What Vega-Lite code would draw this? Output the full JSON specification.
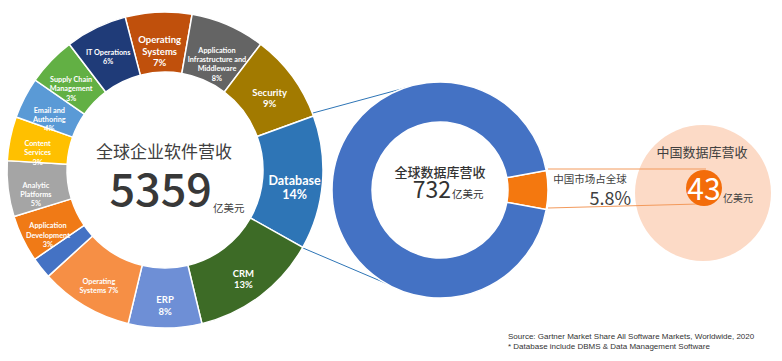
{
  "$schema": "https://vega.github.io/schema/vega-lite/v6.json",
  "width": 782,
  "height": 361,
  "autosize": {"type": "none"},
  "padding": 0,
  "background": "white",
  "config": {"view": {"stroke": null}},
  "data": {"values": [{"one": 1}]},
  "datasets": {
    "software": [
      {"id": 1, "name": "Operating Systems", "share": 6.8, "label": "Operating\nSystems\n7%"},
      {"id": 2, "name": "Application Infrastructure and Middleware", "share": 7.6, "label": "Application\nInfrastructure and\nMiddleware\n8%"},
      {"id": 3, "name": "Security", "share": 9.1, "label": "Security\n9%"},
      {"id": 4, "name": "Database", "share": 13.7, "label": "Database\n14%"},
      {"id": 5, "name": "CRM", "share": 13.1, "label": "CRM\n13%"},
      {"id": 6, "name": "ERP", "share": 7.5, "label": "ERP\n8%"},
      {"id": 7, "name": "Operating Systems", "share": 9.5, "label": "Operating\nSystems 7%"},
      {"id": 8, "name": "Other", "share": 2.2, "label": ""},
      {"id": 9, "name": "Application Development", "share": 4.8, "label": "Application\nDevelopment\n3%"},
      {"id": 10, "name": "Analytic Platforms", "share": 5.7, "label": "Analytic\nPlatforms\n5%"},
      {"id": 11, "name": "Content Services", "share": 4.5, "label": "Content\nServices\n3%"},
      {"id": 12, "name": "Email and Authoring", "share": 4.2, "label": "Email and\nAuthoring\n4%"},
      {"id": 13, "name": "Supply Chain Management", "share": 5.0, "label": "Supply Chain\nManagement\n3%"},
      {"id": 14, "name": "IT Operations", "share": 6.3, "label": "IT Operations\n6%"}
    ],
    "db": [
      {"id": 1, "part": "中国", "share": 5.8},
      {"id": 2, "part": "其他", "share": 94.2}
    ]
  },
  "resolve": {"scale": {"theta": "independent", "color": "independent"}},
  "layer": [
    {
      "mark": {"type": "rule", "color": "#2E75B6", "strokeWidth": 1},
      "encoding": {
        "x": {"datum": 313, "type": "quantitative", "scale": {"domain": [0, 782], "range": [0, 782], "nice": false, "zero": false}, "axis": null},
        "y": {"datum": 113, "type": "quantitative", "scale": {"domain": [0, 361], "range": [0, 361], "nice": false, "zero": false}, "axis": null},
        "x2": {"datum": 405},
        "y2": {"datum": 88}
      }
    },
    {
      "mark": {"type": "rule", "color": "#2E75B6", "strokeWidth": 1},
      "encoding": {
        "x": {"datum": 303, "type": "quantitative", "scale": {"domain": [0, 782], "range": [0, 782], "nice": false, "zero": false}, "axis": null},
        "y": {"datum": 248, "type": "quantitative", "scale": {"domain": [0, 361], "range": [0, 361], "nice": false, "zero": false}, "axis": null},
        "x2": {"datum": 397},
        "y2": {"datum": 288}
      }
    },
    {
      "data": {"name": "software"},
      "mark": {"type": "arc", "radius": 158, "radius2": 98, "stroke": "white", "strokeWidth": 1.5},
      "encoding": {
        "x": {"datum": 165, "type": "quantitative", "scale": {"domain": [0, 782], "range": [0, 782], "nice": false, "zero": false}, "axis": null},
        "y": {"datum": 170, "type": "quantitative", "scale": {"domain": [0, 361], "range": [0, 361], "nice": false, "zero": false}, "axis": null},
        "theta": {"field": "share", "type": "quantitative", "stack": true, "scale": {"domain": [0, 100], "range": [-0.2548, 6.0284]}},
        "order": {"field": "id", "type": "quantitative"},
        "color": {
          "field": "id", "type": "nominal", "legend": null,
          "scale": {
            "domain": [1, 2, 3, 4, 5, 6, 7, 8, 9, 10, 11, 12, 13, 14],
            "range": ["#C0500C", "#646464", "#A27A00", "#2E75B6", "#3D6B26", "#6E8FD6", "#F68F45", "#4472C4", "#F07A16", "#A5A5A5", "#FFC000", "#5A9AD6", "#62B044", "#1F3B78"]
          }
        }
      }
    },
    {
      "data": {"name": "software"},
      "mark": {"type": "text", "radius": 130, "font": "Lato", "fontWeight": "bold", "color": "white", "lineBreak": "\n", "align": "center", "baseline": "middle"},
      "encoding": {
        "x": {"datum": 165, "type": "quantitative", "scale": {"domain": [0, 782], "range": [0, 782], "nice": false, "zero": false}, "axis": null},
        "y": {"datum": 170, "type": "quantitative", "scale": {"domain": [0, 361], "range": [0, 361], "nice": false, "zero": false}, "axis": null},
        "theta": {"field": "share", "type": "quantitative", "stack": true, "scale": {"domain": [0, 100], "range": [-0.2548, 6.0284]}},
        "order": {"field": "id", "type": "quantitative"},
        "text": {"field": "label", "type": "nominal"},
        "size": {
          "condition": [
            {"test": "datum.id === 4", "value": 12.5},
            {"test": "indexof([1, 3, 5, 6], datum.id) >= 0", "value": 9.5}
          ],
          "value": 7.3
        }
      }
    },
    {
      "data": {"name": "db"},
      "mark": {"type": "arc", "radius": 108, "radius2": 68, "stroke": "white", "strokeWidth": 1.5},
      "encoding": {
        "x": {"datum": 440, "type": "quantitative", "scale": {"domain": [0, 782], "range": [0, 782], "nice": false, "zero": false}, "axis": null},
        "y": {"datum": 190, "type": "quantitative", "scale": {"domain": [0, 361], "range": [0, 361], "nice": false, "zero": false}, "axis": null},
        "theta": {"field": "share", "type": "quantitative", "stack": true, "scale": {"domain": [0, 100], "range": [1.3886, 7.6718]}},
        "order": {"field": "id", "type": "quantitative"},
        "color": {
          "field": "part", "type": "nominal", "legend": null,
          "scale": {"domain": ["中国", "其他"], "range": ["#F4780F", "#4472C4"]}
        }
      }
    },
    {
      "mark": {"type": "arc", "radius": 68, "theta": 0, "theta2": 6.2832, "color": "#FCDAC6"},
      "encoding": {
        "x": {"datum": 703, "type": "quantitative", "scale": {"domain": [0, 782], "range": [0, 782], "nice": false, "zero": false}, "axis": null},
        "y": {"datum": 193, "type": "quantitative", "scale": {"domain": [0, 361], "range": [0, 361], "nice": false, "zero": false}, "axis": null}
      }
    },
    {
      "mark": {"type": "rule", "color": "#F39A5C", "strokeWidth": 1},
      "encoding": {
        "x": {"datum": 548, "type": "quantitative", "scale": {"domain": [0, 782], "range": [0, 782], "nice": false, "zero": false}, "axis": null},
        "y": {"datum": 169, "type": "quantitative", "scale": {"domain": [0, 361], "range": [0, 361], "nice": false, "zero": false}, "axis": null},
        "x2": {"datum": 706},
        "y2": {"datum": 169}
      }
    },
    {
      "mark": {"type": "rule", "color": "#F39A5C", "strokeWidth": 1},
      "encoding": {
        "x": {"datum": 548, "type": "quantitative", "scale": {"domain": [0, 782], "range": [0, 782], "nice": false, "zero": false}, "axis": null},
        "y": {"datum": 208, "type": "quantitative", "scale": {"domain": [0, 361], "range": [0, 361], "nice": false, "zero": false}, "axis": null},
        "x2": {"datum": 698},
        "y2": {"datum": 204}
      }
    },
    {
      "mark": {"type": "arc", "radius": 18, "theta": 0, "theta2": 6.2832, "color": "#F36C0A"},
      "encoding": {
        "x": {"datum": 704, "type": "quantitative", "scale": {"domain": [0, 782], "range": [0, 782], "nice": false, "zero": false}, "axis": null},
        "y": {"datum": 188, "type": "quantitative", "scale": {"domain": [0, 361], "range": [0, 361], "nice": false, "zero": false}, "axis": null}
      }
    },
    {
      "mark": {"type": "text", "text": "全球企业软件营收", "font": "Noto Sans CJK SC", "fontSize": 17, "color": "#404040", "align": "center", "baseline": "middle"},
      "encoding": {
        "x": {"datum": 164, "type": "quantitative", "scale": {"domain": [0, 782], "range": [0, 782], "nice": false, "zero": false}, "axis": null},
        "y": {"datum": 153, "type": "quantitative", "scale": {"domain": [0, 361], "range": [0, 361], "nice": false, "zero": false}, "axis": null}
      }
    },
    {
      "mark": {"type": "text", "text": "5359", "font": "Noto Sans CJK SC", "fontSize": 45, "fontWeight": 500, "color": "#383838", "align": "right", "baseline": "alphabetic"},
      "encoding": {
        "x": {"datum": 212, "type": "quantitative", "scale": {"domain": [0, 782], "range": [0, 782], "nice": false, "zero": false}, "axis": null},
        "y": {"datum": 206, "type": "quantitative", "scale": {"domain": [0, 361], "range": [0, 361], "nice": false, "zero": false}, "axis": null}
      }
    },
    {
      "mark": {"type": "text", "text": "亿美元", "font": "Noto Sans CJK SC", "fontSize": 10.5, "color": "#404040", "align": "left", "baseline": "alphabetic"},
      "encoding": {
        "x": {"datum": 213, "type": "quantitative", "scale": {"domain": [0, 782], "range": [0, 782], "nice": false, "zero": false}, "axis": null},
        "y": {"datum": 212, "type": "quantitative", "scale": {"domain": [0, 361], "range": [0, 361], "nice": false, "zero": false}, "axis": null}
      }
    },
    {
      "mark": {"type": "text", "text": "全球数据库营收", "font": "Noto Sans CJK SC", "fontSize": 13, "fontWeight": 500, "color": "#333333", "align": "center", "baseline": "middle"},
      "encoding": {
        "x": {"datum": 440, "type": "quantitative", "scale": {"domain": [0, 782], "range": [0, 782], "nice": false, "zero": false}, "axis": null},
        "y": {"datum": 173, "type": "quantitative", "scale": {"domain": [0, 361], "range": [0, 361], "nice": false, "zero": false}, "axis": null}
      }
    },
    {
      "mark": {"type": "text", "text": "732", "font": "Noto Sans CJK SC", "fontSize": 23, "color": "#333333", "align": "right", "baseline": "alphabetic"},
      "encoding": {
        "x": {"datum": 451, "type": "quantitative", "scale": {"domain": [0, 782], "range": [0, 782], "nice": false, "zero": false}, "axis": null},
        "y": {"datum": 198, "type": "quantitative", "scale": {"domain": [0, 361], "range": [0, 361], "nice": false, "zero": false}, "axis": null}
      }
    },
    {
      "mark": {"type": "text", "text": "亿美元", "font": "Noto Sans CJK SC", "fontSize": 10.5, "color": "#333333", "align": "left", "baseline": "alphabetic"},
      "encoding": {
        "x": {"datum": 452, "type": "quantitative", "scale": {"domain": [0, 782], "range": [0, 782], "nice": false, "zero": false}, "axis": null},
        "y": {"datum": 198, "type": "quantitative", "scale": {"domain": [0, 361], "range": [0, 361], "nice": false, "zero": false}, "axis": null}
      }
    },
    {
      "mark": {"type": "text", "text": "中国市场占全球", "font": "Noto Sans CJK SC", "fontSize": 10.5, "color": "#404040", "align": "center", "baseline": "middle"},
      "encoding": {
        "x": {"datum": 590, "type": "quantitative", "scale": {"domain": [0, 782], "range": [0, 782], "nice": false, "zero": false}, "axis": null},
        "y": {"datum": 180, "type": "quantitative", "scale": {"domain": [0, 361], "range": [0, 361], "nice": false, "zero": false}, "axis": null}
      }
    },
    {
      "mark": {"type": "text", "text": "5.8%", "font": "Noto Sans CJK SC", "fontSize": 18, "color": "#404040", "align": "right", "baseline": "alphabetic"},
      "encoding": {
        "x": {"datum": 631, "type": "quantitative", "scale": {"domain": [0, 782], "range": [0, 782], "nice": false, "zero": false}, "axis": null},
        "y": {"datum": 205, "type": "quantitative", "scale": {"domain": [0, 361], "range": [0, 361], "nice": false, "zero": false}, "axis": null}
      }
    },
    {
      "mark": {"type": "text", "text": "中国数据库营收", "font": "Noto Sans CJK SC", "fontSize": 13, "color": "#404040", "align": "center", "baseline": "middle"},
      "encoding": {
        "x": {"datum": 702, "type": "quantitative", "scale": {"domain": [0, 782], "range": [0, 782], "nice": false, "zero": false}, "axis": null},
        "y": {"datum": 153, "type": "quantitative", "scale": {"domain": [0, 361], "range": [0, 361], "nice": false, "zero": false}, "axis": null}
      }
    },
    {
      "mark": {"type": "text", "text": "43", "font": "Noto Sans CJK SC", "fontSize": 30, "color": "white", "align": "center", "baseline": "alphabetic"},
      "encoding": {
        "x": {"datum": 704, "type": "quantitative", "scale": {"domain": [0, 782], "range": [0, 782], "nice": false, "zero": false}, "axis": null},
        "y": {"datum": 200, "type": "quantitative", "scale": {"domain": [0, 361], "range": [0, 361], "nice": false, "zero": false}, "axis": null}
      }
    },
    {
      "mark": {"type": "text", "text": "亿美元", "font": "Noto Sans CJK SC", "fontSize": 10, "color": "#404040", "align": "left", "baseline": "alphabetic"},
      "encoding": {
        "x": {"datum": 723, "type": "quantitative", "scale": {"domain": [0, 782], "range": [0, 782], "nice": false, "zero": false}, "axis": null},
        "y": {"datum": 202, "type": "quantitative", "scale": {"domain": [0, 361], "range": [0, 361], "nice": false, "zero": false}, "axis": null}
      }
    },
    {
      "mark": {"type": "text", "text": "Source: Gartner Market Share All Software Markets, Worldwide, 2020", "font": "Liberation Sans", "fontSize": 8, "color": "#333333", "align": "left", "baseline": "middle"},
      "encoding": {
        "x": {"datum": 508, "type": "quantitative", "scale": {"domain": [0, 782], "range": [0, 782], "nice": false, "zero": false}, "axis": null},
        "y": {"datum": 337, "type": "quantitative", "scale": {"domain": [0, 361], "range": [0, 361], "nice": false, "zero": false}, "axis": null}
      }
    },
    {
      "mark": {"type": "text", "text": "* Database include DBMS & Data Management Software", "font": "Liberation Sans", "fontSize": 8, "color": "#333333", "align": "left", "baseline": "middle"},
      "encoding": {
        "x": {"datum": 508, "type": "quantitative", "scale": {"domain": [0, 782], "range": [0, 782], "nice": false, "zero": false}, "axis": null},
        "y": {"datum": 347, "type": "quantitative", "scale": {"domain": [0, 361], "range": [0, 361], "nice": false, "zero": false}, "axis": null}
      }
    }
  ]
}
